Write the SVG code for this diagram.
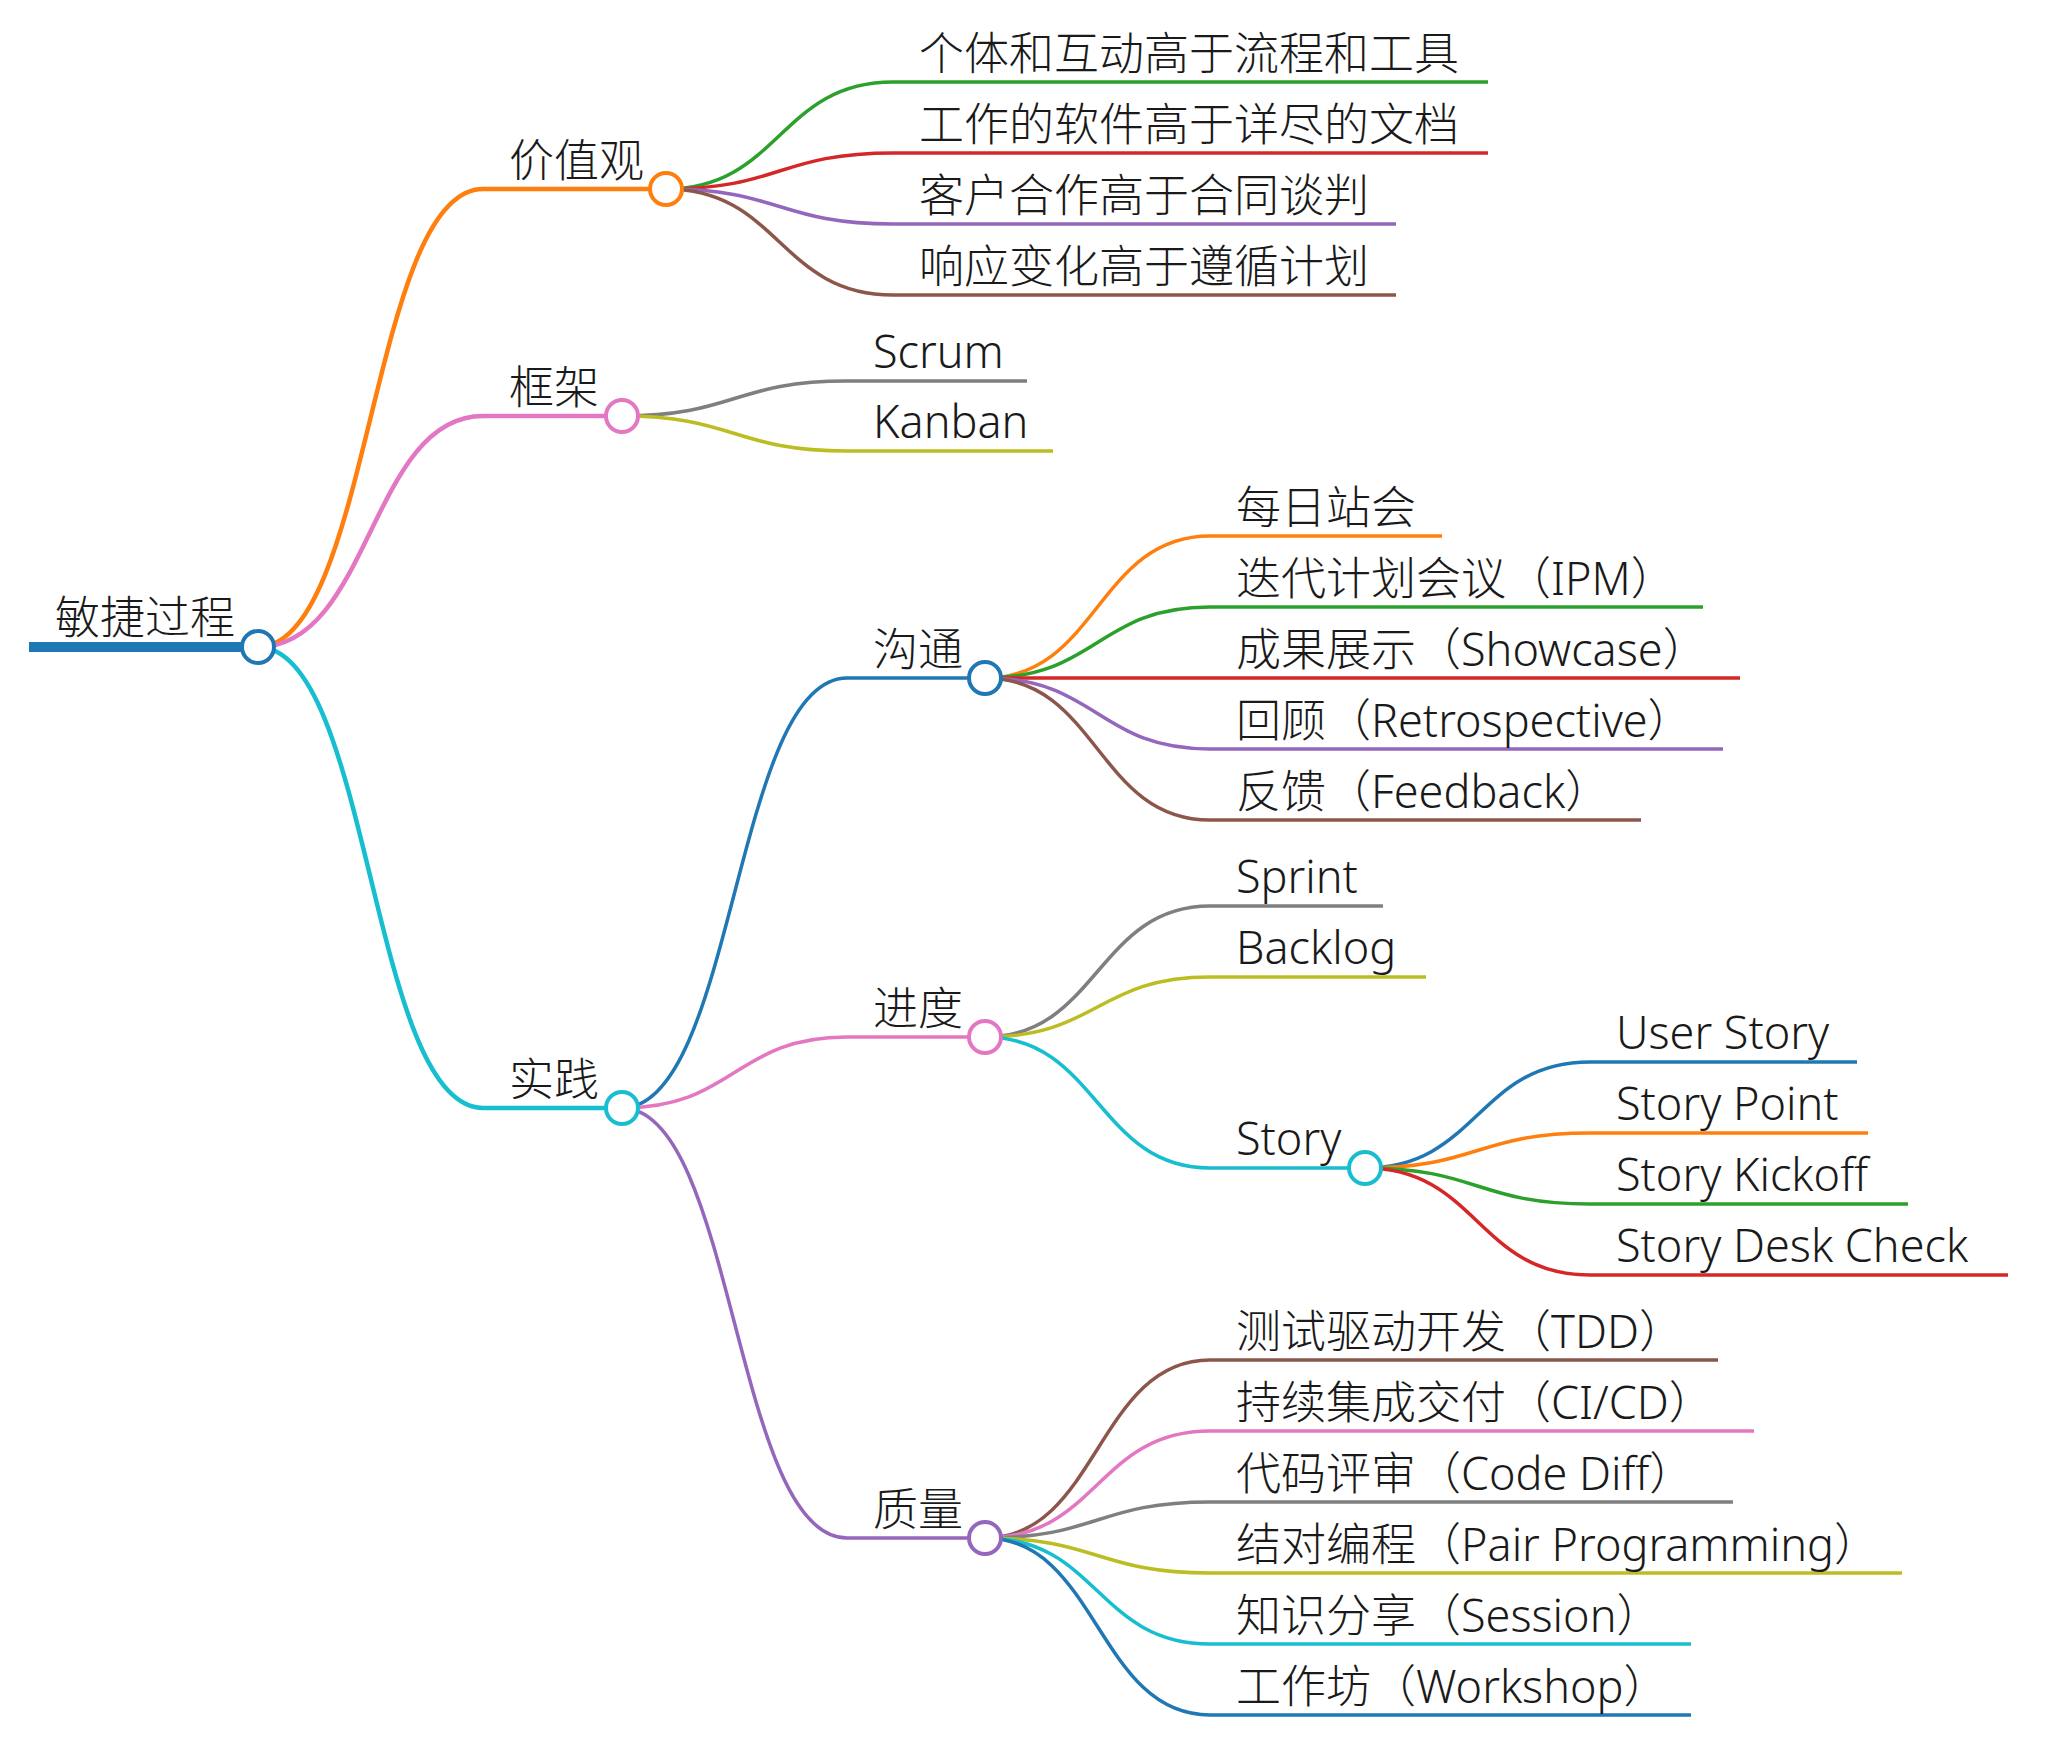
<svg xmlns="http://www.w3.org/2000/svg" width="2048" height="1739" viewBox="0 0 2048 1739">
<style>
text{font-family:"Noto Sans","Noto Sans CJK SC",sans-serif;font-size:45px;font-weight:300;fill:#1a1a1a;}
.lk{fill:none;stroke-width:3.5;}
.l1{stroke-width:4.5;}
.nl{stroke-width:3.5;stroke-linecap:butt;}
.n1{stroke-width:4.5;}
circle{fill:#fff;stroke-width:4;}
.c0{stroke:#1f77b4}.c1{stroke:#ff7f0e}.c2{stroke:#2ca02c}.c3{stroke:#d62728}.c4{stroke:#9467bd}
.c5{stroke:#8c564b}.c6{stroke:#e377c2}.c7{stroke:#7f7f7f}.c8{stroke:#bcbd22}.c9{stroke:#17becf}
</style>
<rect width="2048" height="1739" fill="#fff"/>
<g id="connectors">
<path class="lk l1 c1" d="M258,647 C370.5,647 370.5,189 483,189"/>
<path class="lk l1 c6" d="M258,647 C370.5,647 370.5,416 483,416"/>
<path class="lk l1 c9" d="M258,647 C370.5,647 370.5,1108 483,1108"/>
<path class="lk c2" d="M666,189 C779.5,189 779.5,82 893,82"/>
<path class="lk c3" d="M666,189 C779.5,189 779.5,153 893,153"/>
<path class="lk c4" d="M666,189 C779.5,189 779.5,224 893,224"/>
<path class="lk c5" d="M666,189 C779.5,189 779.5,295 893,295"/>
<path class="lk c7" d="M622,416 C734.5,416 734.5,381 847,381"/>
<path class="lk c8" d="M622,416 C734.5,416 734.5,451 847,451"/>
<path class="lk c0" d="M622,1108 C734.5,1108 734.5,678 847,678"/>
<path class="lk c6" d="M622,1108 C734.5,1108 734.5,1037 847,1037"/>
<path class="lk c4" d="M622,1108 C734.5,1108 734.5,1538 847,1538"/>
<path class="lk c1" d="M985,678 C1097.5,678 1097.5,536 1210,536"/>
<path class="lk c2" d="M985,678 C1097.5,678 1097.5,607 1210,607"/>
<path class="lk c3" d="M985,678 C1097.5,678 1097.5,678 1210,678"/>
<path class="lk c4" d="M985,678 C1097.5,678 1097.5,749 1210,749"/>
<path class="lk c5" d="M985,678 C1097.5,678 1097.5,820 1210,820"/>
<path class="lk c7" d="M985,1037 C1097.5,1037 1097.5,906 1210,906"/>
<path class="lk c8" d="M985,1037 C1097.5,1037 1097.5,977 1210,977"/>
<path class="lk c9" d="M985,1037 C1097.5,1037 1097.5,1168 1210,1168"/>
<path class="lk c0" d="M1365,1168 C1477.5,1168 1477.5,1062 1590,1062"/>
<path class="lk c1" d="M1365,1168 C1477.5,1168 1477.5,1133 1590,1133"/>
<path class="lk c2" d="M1365,1168 C1477.5,1168 1477.5,1204 1590,1204"/>
<path class="lk c3" d="M1365,1168 C1477.5,1168 1477.5,1275 1590,1275"/>
<path class="lk c5" d="M985,1538 C1097.5,1538 1097.5,1360 1210,1360"/>
<path class="lk c6" d="M985,1538 C1097.5,1538 1097.5,1431 1210,1431"/>
<path class="lk c7" d="M985,1538 C1097.5,1538 1097.5,1502 1210,1502"/>
<path class="lk c8" d="M985,1538 C1097.5,1538 1097.5,1573 1210,1573"/>
<path class="lk c9" d="M985,1538 C1097.5,1538 1097.5,1644 1210,1644"/>
<path class="lk c0" d="M985,1538 C1097.5,1538 1097.5,1715 1210,1715"/>
</g>
<g id="n-root"><line class="c0" x1="29" y1="647" x2="258" y2="647" stroke-width="10"/><text x="55" y="634">敏捷过程</text><circle class="c0" cx="258" cy="647" r="16"/></g>
<g id="n-values"><line class="nl n1 c1" x1="483" y1="189" x2="666" y2="189"/><text x="509" y="177">价值观</text><circle class="c1" cx="666" cy="189" r="16"/></g>
<g id="n-v1"><line class="nl c2" x1="893" y1="82" x2="1488" y2="82"/><text x="919" y="70">个体和互动高于流程和工具</text></g>
<g id="n-v2"><line class="nl c3" x1="893" y1="153" x2="1488" y2="153"/><text x="919" y="141">工作的软件高于详尽的文档</text></g>
<g id="n-v3"><line class="nl c4" x1="893" y1="224" x2="1396" y2="224"/><text x="919" y="212">客户合作高于合同谈判</text></g>
<g id="n-v4"><line class="nl c5" x1="893" y1="295" x2="1396" y2="295"/><text x="919" y="283">响应变化高于遵循计划</text></g>
<g id="n-framework"><line class="nl n1 c6" x1="483" y1="416" x2="622" y2="416"/><text x="509" y="404">框架</text><circle class="c6" cx="622" cy="416" r="16"/></g>
<g id="n-scrum"><line class="nl c7" x1="847" y1="381" x2="1027" y2="381"/><text x="873" y="368">Scrum</text></g>
<g id="n-kanban"><line class="nl c8" x1="847" y1="451" x2="1053" y2="451"/><text x="873" y="438">Kanban</text></g>
<g id="n-practice"><line class="nl n1 c9" x1="483" y1="1108" x2="622" y2="1108"/><text x="509" y="1096">实践</text><circle class="c9" cx="622" cy="1108" r="16"/></g>
<g id="n-comm"><line class="nl c0" x1="847" y1="678" x2="985" y2="678"/><text x="873" y="666">沟通</text><circle class="c0" cx="985" cy="678" r="16"/></g>
<g id="n-c1"><line class="nl c1" x1="1210" y1="536" x2="1442" y2="536"/><text x="1236" y="524">每日站会</text></g>
<g id="n-c2"><line class="nl c2" x1="1210" y1="607" x2="1703" y2="607"/><text x="1236" y="595">迭代计划会议（IPM）</text></g>
<g id="n-c3"><line class="nl c3" x1="1210" y1="678" x2="1740" y2="678"/><text x="1236" y="666">成果展示（Showcase）</text></g>
<g id="n-c4"><line class="nl c4" x1="1210" y1="749" x2="1723" y2="749"/><text x="1236" y="737">回顾（Retrospective）</text></g>
<g id="n-c5"><line class="nl c5" x1="1210" y1="820" x2="1641" y2="820"/><text x="1236" y="808">反馈（Feedback）</text></g>
<g id="n-progress"><line class="nl c6" x1="847" y1="1037" x2="985" y2="1037"/><text x="873" y="1025">进度</text><circle class="c6" cx="985" cy="1037" r="16"/></g>
<g id="n-sprint"><line class="nl c7" x1="1210" y1="906" x2="1383" y2="906"/><text x="1236" y="893">Sprint</text></g>
<g id="n-backlog"><line class="nl c8" x1="1210" y1="977" x2="1426" y2="977"/><text x="1236" y="964">Backlog</text></g>
<g id="n-story"><line class="nl c9" x1="1210" y1="1168" x2="1365" y2="1168"/><text x="1236" y="1155">Story</text><circle class="c9" cx="1365" cy="1168" r="16"/></g>
<g id="n-s1"><line class="nl c0" x1="1590" y1="1062" x2="1857" y2="1062"/><text x="1616" y="1049">User Story</text></g>
<g id="n-s2"><line class="nl c1" x1="1590" y1="1133" x2="1868" y2="1133"/><text x="1616" y="1120">Story Point</text></g>
<g id="n-s3"><line class="nl c2" x1="1590" y1="1204" x2="1908" y2="1204"/><text x="1616" y="1191">Story Kickoff</text></g>
<g id="n-s4"><line class="nl c3" x1="1590" y1="1275" x2="2008" y2="1275"/><text x="1616" y="1262">Story Desk Check</text></g>
<g id="n-quality"><line class="nl c4" x1="847" y1="1538" x2="985" y2="1538"/><text x="873" y="1526">质量</text><circle class="c4" cx="985" cy="1538" r="16"/></g>
<g id="n-q1"><line class="nl c5" x1="1210" y1="1360" x2="1718" y2="1360"/><text x="1236" y="1348">测试驱动开发（TDD）</text></g>
<g id="n-q2"><line class="nl c6" x1="1210" y1="1431" x2="1754" y2="1431"/><text x="1236" y="1419">持续集成交付（CI/CD）</text></g>
<g id="n-q3"><line class="nl c7" x1="1210" y1="1502" x2="1733" y2="1502"/><text x="1236" y="1490">代码评审（Code Diff）</text></g>
<g id="n-q4"><line class="nl c8" x1="1210" y1="1573" x2="1902" y2="1573"/><text x="1236" y="1561">结对编程（Pair Programming）</text></g>
<g id="n-q5"><line class="nl c9" x1="1210" y1="1644" x2="1691" y2="1644"/><text x="1236" y="1632">知识分享（Session）</text></g>
<g id="n-q6"><line class="nl c0" x1="1210" y1="1715" x2="1691" y2="1715"/><text x="1236" y="1703">工作坊（Workshop）</text></g>
</svg>
